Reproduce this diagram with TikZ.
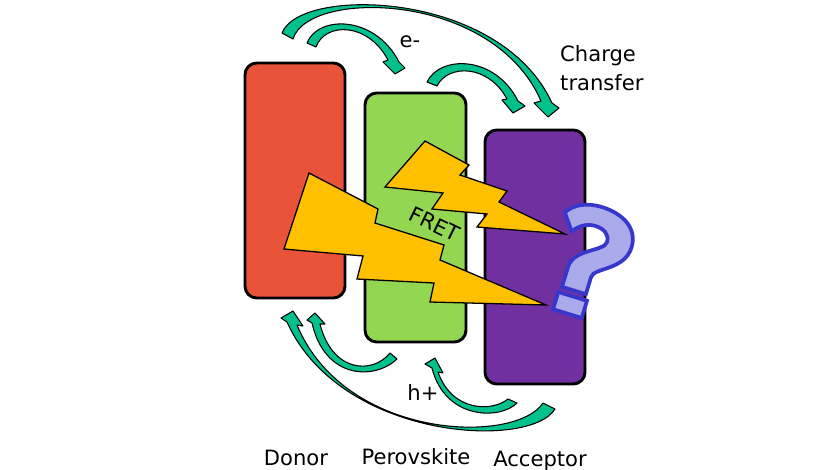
\documentclass[tikz,border=0pt]{standalone}
\usepackage{fontspec}
\setmainfont{DejaVu Sans}
\definecolor{donorred}{RGB}{233,83,58}
\definecolor{perovgreen}{RGB}{146,214,82}
\definecolor{accpurple}{RGB}{112,48,160}
\definecolor{boltyellow}{RGB}{255,192,0}
\definecolor{carrierteal}{RGB}{0,192,140}
\definecolor{qfill}{RGB}{170,170,235}
\definecolor{qline}{RGB}{55,55,205}

\begin{document}
\begin{tikzpicture}[x=0.03cm, y=-0.03cm,
  layer/.style={draw=black, line width=2.5pt, rounded corners=10pt},
  bolt/.style={fill=boltyellow, draw=black, line width=1.1pt, line join=miter},
  carrier/.style={fill=carrierteal, draw=black, line width=0.9pt, line join=round},
  lbl/.style={font=\fontsize{18}{22}\selectfont, inner sep=0pt}]
  \path[use as bounding box, fill=white] (0,0) rectangle (834,469);

  % the three layers
  \draw[layer, fill=donorred] (245,63) rectangle (345,298);
  \draw[layer, fill=perovgreen] (365,93) rectangle (466,342);
  \draw[layer, fill=accpurple] (485,130) rectangle (585,384);

  % energy transfer bolts
  \draw[bolt] (309,173) -- (378,209) -- (375,223) -- (444,245) -- (440,260)
    -- (546,305) -- (430,302) -- (434,283) -- (357,279) -- (363,256)
    -- (284,249) -- cycle;
  \draw[bolt] (425,141) -- (469,165) -- (460,175) -- (507,191) -- (499,202)
    -- (565,234) -- (477,227) -- (487,214) -- (432,209) -- (443,193)
    -- (385,187) -- cycle;
  \node[lbl, rotate=-26] (fret) at (435,224) {FRET};

  % question mark
  \begin{scope}[shift={(570,305)}, rotate=-17]
    \draw[qline, fill=qfill, line width=3.2pt, line join=miter]
      (-13,-15) -- (12,-15) -- (12,-33) .. controls (12,-43) and (42,-49) .. (42,-73)
      .. controls (42,-93) and (24,-103) .. (2,-103)
      .. controls (-14,-103) and (-26,-97) .. (-32,-87)
      -- (-20,-71) .. controls (-14,-79) and (-7,-83) .. (1,-83)
      .. controls (10,-83) and (17,-79) .. (17,-71)
      .. controls (17,-61) and (-13,-55) .. (-13,-36) -- cycle;
    \draw[qline, fill=qfill, line width=3.2pt] (-15,-9) rectangle (15,9);
  \end{scope}

  % electron transfer (top)
  \draw[carrier] (282,33) .. controls (300,-14) and (500,-10) .. (552,103)
    -- (559,108) -- (548,117) -- (534,103) -- (541,101)
    .. controls (493,-9) and (308,-11) .. (293,39) -- cycle;
  \draw[carrier] (307,43) .. controls (318,15) and (375,15) .. (399,62)
    -- (405,68) -- (395,74) -- (383,62) -- (388,60)
    .. controls (368,22) and (325,22) .. (316,47) -- cycle;
  \draw[carrier] (427,82) .. controls (440,55) and (495,55) .. (518,101)
    -- (525,106) -- (513,113) -- (502,100) -- (507,99)
    .. controls (488,64) and (448,64) .. (437,86) -- cycle;

  % hole transfer (bottom)
  \draw[carrier] (555,409) .. controls (530,450) and (340,440) .. (287,322)
    -- (281,318) -- (293,311) -- (303,326) -- (297,325)
    .. controls (345,440) and (515,445) .. (543,403) -- cycle;
  \draw[carrier] (397,359) .. controls (375,380) and (325,380) .. (312,323)
    -- (307,320) -- (315,313) -- (325,324) -- (320,324)
    .. controls (332,372) and (372,375) .. (390,353) -- cycle;
  \draw[carrier] (517,403) .. controls (500,420) and (445,420) .. (432,368)
    -- (425,364) -- (435,358) -- (443,373) -- (438,372)
    .. controls (452,412) and (492,412) .. (508,399) -- cycle;

  % labels
  \node[lbl, anchor=base] (elec) at (410,47) {e-};
  \node[lbl, anchor=base] (hole) at (423,400) {h+};
  \node[lbl, anchor=base west] (charge) at (560,61) {Charge};
  \node[lbl, anchor=base west] (transfer) at (560,90) {transfer};
  \node[lbl, anchor=base] (donor) at (296,465) {Donor};
  \node[lbl, anchor=base] (perov) at (416,464) {Perovskite};
  \node[lbl, anchor=base] (accept) at (540,466) {Acceptor};
\end{tikzpicture}
\end{document}
